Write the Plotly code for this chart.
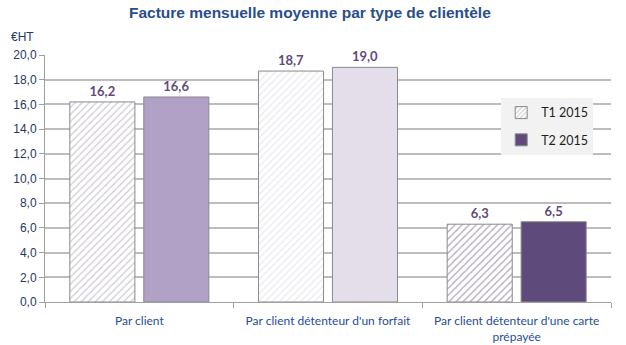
import plotly.graph_objects as go

categories = ["Par client", "Par client détenteur d'un forfait", "Par client détenteur d'une carte<br>prépayée"]
t1_values = [16.2, 18.7, 6.3]
t2_values = [16.6, 19.0, 6.5]
series_names = ["T1 2015", "T2 2015"]
y_ticks = [0, 2, 4, 6, 8, 10, 12, 14, 16, 18, 20]

t2_colors = ["#B1A1C7", "#E4DEEB", "#5F4B7B"]
hatch_colors = ["#A090BA", "#D6D0DE", "#5F4B7B"]
outline = "#8A8A8A"
label_color = "#5F4B7B"

fig = go.Figure()
fig.add_trace(go.Bar(
    x=categories, y=t1_values, name=series_names[0], showlegend=False,
    marker=dict(color="white", line=dict(color=outline, width=1),
                pattern=dict(shape="/", fgcolor=hatch_colors, bgcolor="white", size=5, solidity=0.25)),
    texttemplate="%{y:.1f}", textposition="outside",
    textfont=dict(family="Lato", size=13, color=label_color, weight="bold"),
    cliponaxis=False,
))
fig.add_trace(go.Bar(
    x=categories, y=t2_values, name=series_names[1], showlegend=False,
    marker=dict(color=t2_colors, line=dict(color=outline, width=1)),
    texttemplate="%{y:.1f}", textposition="outside",
    textfont=dict(family="Lato", size=13, color=label_color, weight="bold"),
    cliponaxis=False,
))
# legend-only entries
fig.add_trace(go.Bar(
    x=[None], y=[None], name=series_names[0], xaxis="x2", yaxis="y2", legendgroup="a",
    marker=dict(color="white", line=dict(color=outline, width=1),
                pattern=dict(shape="/", fgcolor="#8A8A8A", bgcolor="white", size=4, solidity=0.3)),
))
fig.add_trace(go.Bar(
    x=[None], y=[None], name=series_names[1], xaxis="x2", yaxis="y2", legendgroup="b",
    marker=dict(color="#5F4B7B", line=dict(color=outline, width=1)),
))

fig.update_layout(
    width=626, height=345,
    margin=dict(l=45, r=15, t=55, b=43),
    paper_bgcolor="white", plot_bgcolor="white",
    separators=", ",
    barmode="group", bargap=0.216, bargroupgap=0.12,
    title=dict(text="<b>Facture mensuelle moyenne par type de clientèle</b>",
               x=0.495, xanchor="center", y=0.963, yanchor="middle",
               font=dict(family="Liberation Sans", size=15.5, color="#2A4E8C")),
    xaxis=dict(type="category", tickson="boundaries", ticks="outside", ticklen=5,
               tickcolor="#A0A0A0", showline=True, linecolor="#A0A0A0", linewidth=1,
               showgrid=False, ticklabelstandoff=8, automargin=False,
               tickfont=dict(family="Lato", size=12, color="#1F4E96")),
    yaxis=dict(range=[0, 20], tickvals=y_ticks, tickformat=".1f", ticks="outside", ticklen=5,
               tickcolor="#A0A0A0", showline=True, linecolor="#A0A0A0", linewidth=1,
               showgrid=True, gridcolor="#BDBDBD", gridwidth=1.5, zeroline=False,
               automargin=False,
               tickfont=dict(family="Liberation Sans", size=12, color="#1F3864")),
    xaxis2=dict(overlaying="x", visible=False),
    yaxis2=dict(overlaying="y", visible=False),
    legend=dict(x=0.806, y=0.826, xanchor="left", yanchor="top",
                bgcolor="#F2F2F2", tracegroupgap=8, itemwidth=30,
                font=dict(family="Lato", size=12.5, color="#1F1F1F")),
    annotations=[dict(text="€HT", xref="paper", yref="paper", x=-0.039, y=1.073,
                      xanchor="center", yanchor="middle", showarrow=False,
                      font=dict(family="Liberation Sans", size=12, color="#1F3864"))],
)

fig.write_html("out.html")
